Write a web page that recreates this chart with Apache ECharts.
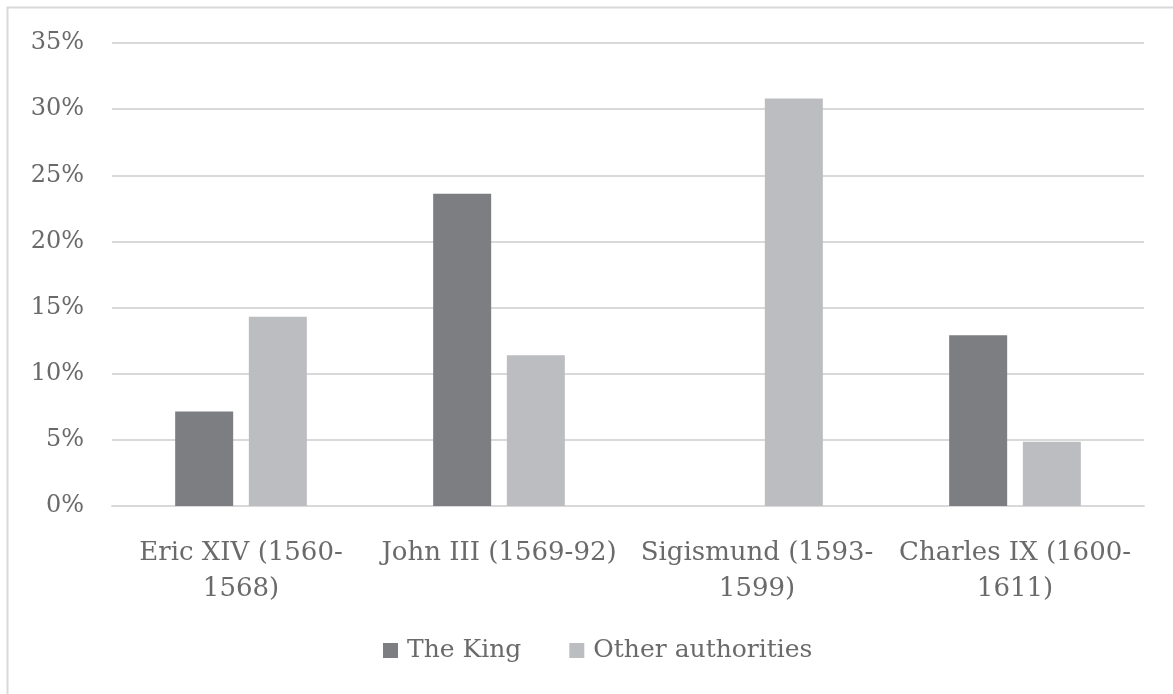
<!DOCTYPE html>
<html>
<head>
<meta charset="utf-8">
<script src="https://cdn.jsdelivr.net/npm/echarts@6/dist/echarts.min.js"></script>
<style>
  html, body { margin: 0; padding: 0; background: #ffffff; }
  #chart { width: 1173px; height: 694px; }
</style>
</head>
<body>
<div id="chart"></div>
<script>
const categories = ['Eric XIV (1560-1568)', 'John III (1569-92)', 'Sigismund (1593-1599)', 'Charles IX (1600-1611)'];
const seriesNames = ['The King', 'Other authorities'];
const kingValues = [7.15, 23.6, 0, 12.9];
const otherValues = [14.3, 11.4, 30.8, 4.85];
const yTicks = [0, 5, 10, 15, 20, 25, 30, 35];

const FONT = 'DejaVu Serif';
const TEXT = '#6a6a6a';

const chart = echarts.init(document.getElementById('chart'), null, { renderer: 'canvas' });
chart.setOption({
  backgroundColor: '#ffffff',
  animation: false,
  graphic: [{
    type: 'rect',
    shape: { x: 7.5, y: 7.5, width: 1200, height: 720 },
    style: { fill: 'none', stroke: '#d9d9d9', lineWidth: 2 },
    silent: true
  }],
  grid: { left: 112, right: 29, top: 43, bottom: 188 },
  legend: {
    data: seriesNames,
    bottom: 26,
    left: 378,
    itemWidth: 15,
    itemHeight: 15,
    itemGap: 48,
    icon: 'rect',
    textStyle: { fontFamily: FONT, fontSize: 25, color: TEXT, padding: [0, 0, 0, 4] }
  },
  xAxis: {
    type: 'category',
    data: categories,
    axisLine: { show: true, lineStyle: { color: '#d9d9d9', width: 2 } },
    axisTick: { show: false },
    axisLabel: {
      interval: 0,
      margin: 29,
      fontFamily: FONT,
      fontSize: 26,
      color: TEXT,
      lineHeight: 36,
      formatter: function (v) { return v.replace(/\((\d{4})-(\d{4})\)/, '($1-\n$2)'); }
    }
  },
  yAxis: {
    type: 'value',
    min: 0,
    max: 35,
    interval: 5,
    axisLine: { show: false },
    axisTick: { show: false },
    splitLine: { lineStyle: { color: '#d9d9d9', width: 2 } },
    axisLabel: {
      margin: 28,
      fontFamily: FONT,
      fontSize: 24,
      color: TEXT,
      formatter: function (v) { return yTicks.indexOf(v) >= 0 ? v + '%' : ''; }
    }
  },
  series: [
    {
      name: seriesNames[0],
      type: 'bar',
      data: kingValues,
      barWidth: 58,
      barGap: '27%',
      itemStyle: { color: '#7d7e82' }
    },
    {
      name: seriesNames[1],
      type: 'bar',
      data: otherValues,
      barWidth: 58,
      itemStyle: { color: '#bcbdc0' }
    }
  ]
});
</script>
</body>
</html>
